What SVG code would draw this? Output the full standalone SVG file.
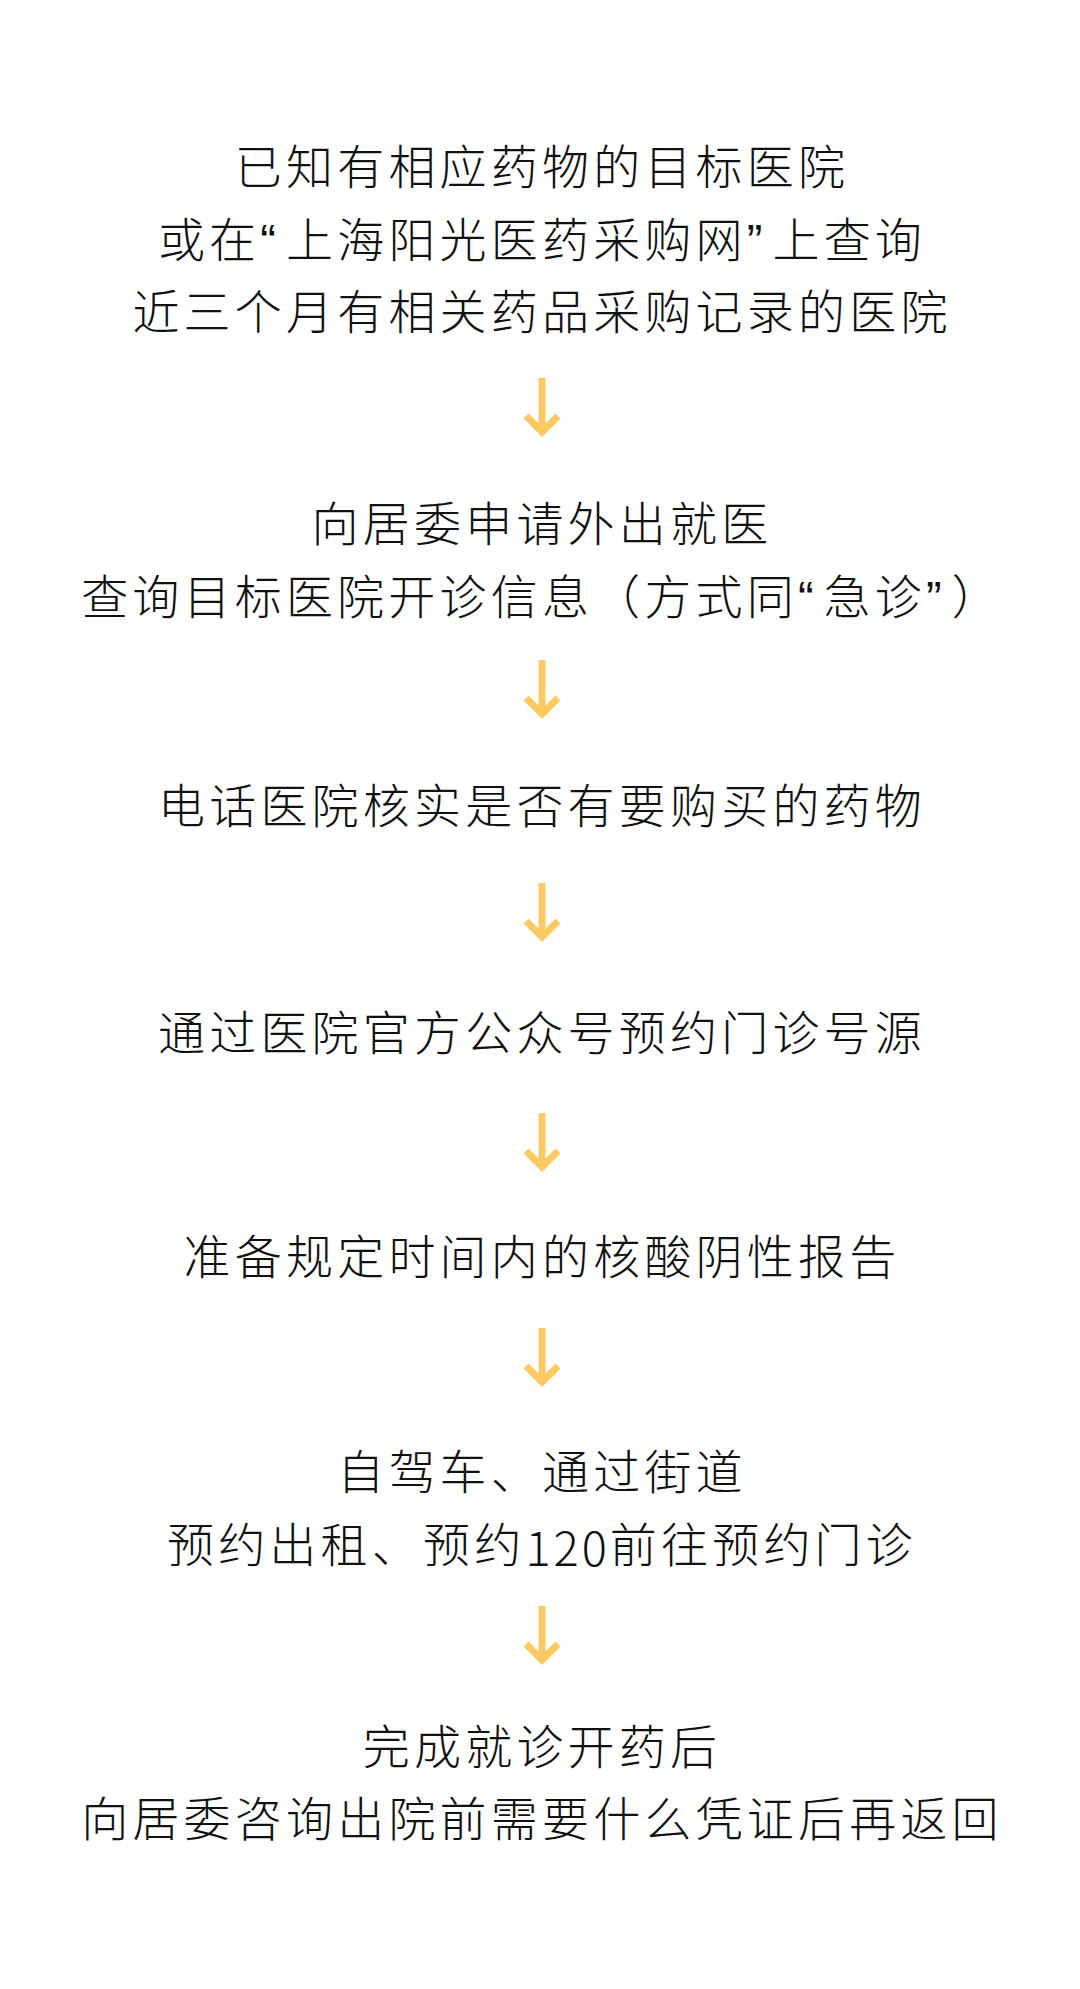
<svg xmlns="http://www.w3.org/2000/svg" width="1080" height="1989" viewBox="0 0 1080 1989">
<defs>
<style>
.t{font-family:"Liberation Sans","Noto Sans CJK SC",sans-serif;font-size:47px;font-weight:300;fill:#111;text-anchor:middle;dominant-baseline:central;letter-spacing:4.2px}
.q{letter-spacing:10px}
.d{font-family:"Noto Sans CJK SC","Noto Sans",sans-serif;font-weight:300;letter-spacing:3px}
.a{fill:none;stroke:#FFC961;stroke-width:7;stroke-linecap:butt;stroke-linejoin:miter}
</style>
<g id="arrowShape"><path class="a" d="M0,0 V54 M-16,38 L0,54 L16,38"/></g>
</defs>
<rect width="1080" height="1989" fill="#fff"/>
<g id="node1">
<text class="t" x="542" y="167">已知有相应药物的目标医院</text>
<text class="t" x="542" y="240">或在<tspan class="q">“</tspan>上海阳光医药采购网<tspan class="q">”</tspan>上查询</text>
<text class="t" x="542" y="312">近三个月有相关药品采购记录的医院</text>
</g>
<g id="node2">
<text class="t" x="542" y="524">向居委申请外出就医</text>
<text class="t" x="542" y="597">查询目标医院开诊信息（方式同<tspan class="q">“</tspan>急诊<tspan class="q">”</tspan>）</text>
</g>
<g id="node3">
<text class="t" x="542" y="806">电话医院核实是否有要购买的药物</text>
</g>
<g id="node4">
<text class="t" x="542" y="1033">通过医院官方公众号预约门诊号源</text>
</g>
<g id="node5">
<text class="t" x="542" y="1257">准备规定时间内的核酸阴性报告</text>
</g>
<g id="node6">
<text class="t" x="542" y="1472">自驾车、通过街道</text>
<text class="t" x="542" y="1545">预约出租、预约<tspan class="d">120</tspan>前往预约门诊</text>
</g>
<g id="node7">
<text class="t" x="542" y="1747">完成就诊开药后</text>
<text class="t" x="542" y="1819">向居委咨询出院前需要什么凭证后再返回</text>
</g>
<g id="connectors">
<use href="#arrowShape" x="542" y="378"/>
<use href="#arrowShape" x="542" y="660"/>
<use href="#arrowShape" x="542" y="883"/>
<use href="#arrowShape" x="542" y="1113"/>
<use href="#arrowShape" x="542" y="1328"/>
<use href="#arrowShape" x="542" y="1606"/>
</g>
</svg>
